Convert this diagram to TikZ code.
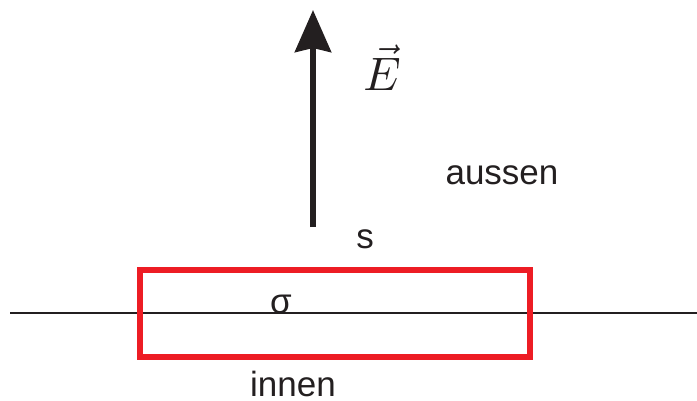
\documentclass[tikz,border=0pt]{standalone}
\usepackage{fontspec}
\setmainfont{Liberation Sans}
\usepackage{tikz}
\usetikzlibrary{arrows.meta}
\definecolor{ink}{HTML}{231F20}
\definecolor{boxred}{HTML}{ED1C24}
\begin{document}
\begin{tikzpicture}[x=1pt,y=-1pt,
    lbl/.style={anchor=base,inner sep=0pt,text=ink,font=\fontsize{35}{40}\selectfont},
    surface/.style={draw=boxred,line width=6pt,minimum width=390pt,minimum height=87pt,inner sep=0pt}]
        \useasboundingbox (0,0) rectangle (697,400);
        \coordinate (lft) at (10,313);
        \coordinate (rgt) at (697,313);
        \draw[ink,line width=1.2pt] (lft) -- (rgt);
        \node[surface] (box) at (335,313.5) {};
        \coordinate (fbot) at (313,227);
        \coordinate (ftop) at (313,10);
        \draw[-{Stealth[length=42pt,width=36pt,inset=4pt]},line width=6pt,ink] (fbot) -- (ftop);
        \node[anchor=base,inner sep=0pt,text=ink] (field) at (382,90) {\scalebox{4.7}{$\vec{E}$}};
        \node[lbl] (out) at (502,184) {aussen};
        \node[lbl] (sfc) at (365,248) {s};
        \node[lbl] (sig) at (281,313) {σ};
        \node[lbl] (in) at (293,396) {innen};
      \end{tikzpicture}
\end{document}
